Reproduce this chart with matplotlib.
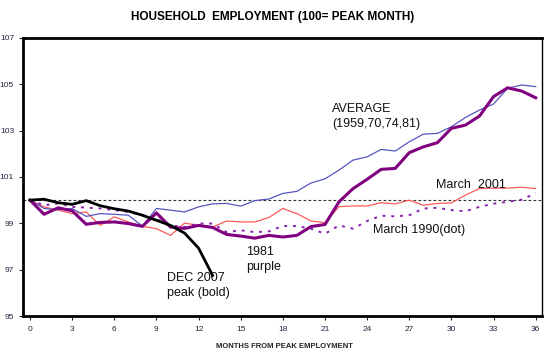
import matplotlib
matplotlib.use("Agg")
import matplotlib.pyplot as plt

plt.rcParams['font.family'] = ['Liberation Sans', 'DejaVu Sans']

months = list(range(37))
x_ticks = list(range(0, 37, 3))
y_ticks = [95, 97, 99, 101, 103, 105, 107]

dec2007 = [100.0, 100.04, 99.89, 99.82, 99.98, 99.76, 99.63, 99.53, 99.35, 99.13,
           98.91, 98.58, 97.93, 96.75]

y1981 = [100.0, 99.39, 99.67, 99.54, 98.96, 99.04, 99.06, 98.99, 98.87, 99.45,
         98.84, 98.78, 98.91, 98.82, 98.52, 98.45, 98.36, 98.48, 98.41, 98.48,
         98.86, 98.95, 99.93, 100.5, 100.9, 101.33, 101.37, 102.05, 102.3, 102.48,
         103.1, 103.24, 103.63, 104.47, 104.85, 104.71, 104.42]

average = [100.0, 99.64, 99.59, 99.64, 99.3, 99.42, 99.39, 99.35, 98.88, 99.64,
           99.57, 99.49, 99.71, 99.84, 99.86, 99.74, 99.98, 100.05, 100.29, 100.38,
           100.74, 100.92, 101.3, 101.73, 101.87, 102.19, 102.12, 102.52, 102.85, 102.88,
           103.17, 103.57, 103.89, 104.15, 104.83, 104.97, 104.9]

march2001 = [100.0, 99.71, 99.57, 99.42, 99.49, 98.91, 99.28, 99.06, 98.87, 98.77,
             98.48, 99.01, 98.91, 98.84, 99.1, 99.06, 99.06, 99.25, 99.64, 99.42,
             99.1, 99.03, 99.72, 99.75, 99.75, 99.89, 99.84, 100.0, 99.78, 99.86,
             99.88, 100.22, 100.5, 100.52, 100.52, 100.56, 100.5]

march1990 = [100.0, 99.78, 99.86, 99.71, 99.68, 99.64, 99.57, 99.49, 99.35, 99.2,
             98.91, 98.84, 98.99, 98.99, 98.62, 98.7, 98.62, 98.65, 98.89, 98.88,
             98.77, 98.55, 98.91, 98.77, 99.1, 99.33, 99.3, 99.35, 99.64, 99.67,
             99.57, 99.52, 99.71, 99.85, 99.93, 100.02, 100.3]

fig = plt.figure(figsize=(5.45, 3.53), dpi=100)
ax = fig.add_axes([0.0422, 0.1048, 0.9523, 0.7876])

ax.axhline(100, color='#333333', lw=0.8, ls=(0, (2.5, 2)), zorder=1)
ax.plot(months, march2001, color='#FF5A5A', lw=0.9, zorder=2)
ax.plot(months, average, color='#5555C0', lw=0.9, zorder=3)
ax.plot(months, march1990, color='#8A1FB0', lw=1.4, ls=(0, (1.5, 3)), zorder=3)
ax.plot(months, y1981, color='#800080', lw=2.2, zorder=4)
ax.plot(months[:len(dec2007)], dec2007, color='black', lw=2.0, zorder=5)

ax.set_xlim(-0.5, 36.45)
ax.set_ylim(95, 107)
ax.set_xticks(x_ticks)
ax.set_yticks(y_ticks)
ax.tick_params(axis='both', labelsize=6, length=3, width=0.8, colors='#222222',
               labelcolor='#2a2040')
ax.tick_params(axis='x', pad=4)
for side in ['left', 'bottom', 'top']:
    ax.spines[side].set_linewidth(2.0)
ax.spines['right'].set_linewidth(1.0)

ax.text(21.5, 104.2, 'AVERAGE\n(1959,70,74,81)', fontsize=9, ha='left', va='top',
        linespacing=1.3, color='#111111')
ax.text(28.9, 100.65, 'March  2001', fontsize=9, ha='left', va='center', color='#111111')
ax.text(24.4, 98.7, 'March 1990(dot)', fontsize=9, ha='left', va='center', color='#111111')
ax.text(15.4, 98.0, '1981\npurple', fontsize=9, ha='left', va='top', linespacing=1.3,
        color='#111111')
ax.text(9.75, 96.9, 'DEC 2007\npeak (bold)', fontsize=9, ha='left', va='top',
        linespacing=1.3, color='#111111')

fig.text(0.5, 0.951, 'HOUSEHOLD  EMPLOYMENT (100= PEAK MONTH)', fontsize=8.5,
         fontweight='bold', ha='center', va='center')
fig.text(0.522, 0.017, 'MONTHS FROM PEAK EMPLOYMENT', fontsize=5.5,
         fontweight='bold', ha='center', va='center', color='#222222')

fig.savefig('out.png', dpi=100)
